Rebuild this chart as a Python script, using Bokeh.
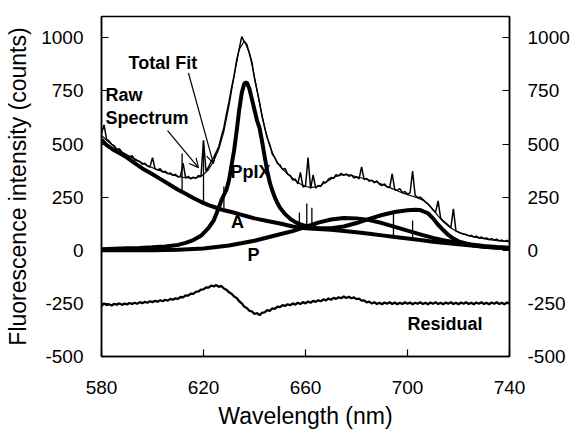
from bokeh.plotting import figure
from bokeh.models import FixedTicker, LinearAxis, Range1d, Label, Arrow, OpenHead, PrintfTickFormatter
from bokeh.embed import file_html
from bokeh.resources import INLINE

# ---------------- data ----------------
raw_x = list(range(580, 741))
raw_y = [548, 590, 522, 515, 498, 492, 470, 478, 462, 455,
         448, 440, 445, 426, 421, 418, 405, 410, 396, 392,
         436, 383, 378, 384, 368, 372, 360, 364, 352, 358,
         345, 350, 410, 340, 348, 336, 344, 338, 352, 345,
         516, 372, 392, 418, 436, 462, 488, 535, 578, 642,
         698, 765, 822, 895, 948, 1005, 982, 968, 925, 885,
         808, 752, 695, 628, 578, 528, 498, 452, 436, 408,
         402, 380, 385, 358, 352, 330, 335, 312, 366, 298,
         302, 436, 290, 355, 292, 305, 300, 322, 318, 335,
         342, 338, 356, 350, 362, 352, 360, 348, 354, 340,
         346, 336, 392, 332, 338, 325, 330, 318, 326, 310,
         305, 312, 298, 295, 360, 285, 282, 290, 272, 276,
         265, 270, 372, 258, 248, 250, 240, 228, 218, 205,
         190, 178, 232, 150, 138, 128, 118, 105, 195, 90,
         86, 80, 76, 74, 68, 70, 63, 66, 58, 62,
         55, 58, 50, 55, 48, 52, 44, 48, 42, 46,
         40]

fit_x = list(range(580, 741, 2))
fit_y = [540, 518, 498, 478, 462, 448, 436, 424, 410, 398,
         388, 378, 370, 362, 355, 348, 343, 340, 340, 344,
         356, 380, 420, 475, 560, 680, 820, 945, 985, 930,
         815, 690, 575, 490, 432, 395, 370, 348, 328, 312,
         300, 296, 298, 306, 320, 335, 348, 355, 356, 352,
         346, 340, 334, 327, 320, 310, 300, 290, 280, 270,
         262, 254, 246, 236, 218, 192, 162, 135, 114, 98,
         85, 76, 69, 63, 58, 54, 50, 47, 44, 42,
         40]

ppix_x = [580, 585, 590, 595, 600, 605, 610, 613, 616, 619, 622, 624, 626, 627,
          628, 629, 630, 631, 632, 633, 634, 635, 636, 637, 638, 639, 640, 641,
          642, 643, 644, 645, 646, 647, 648, 649, 650, 652, 654, 656, 658, 660,
          665, 670, 675, 680, 685, 690, 695, 700, 703, 705, 708, 710, 712, 714,
          716, 718, 720, 725, 730, 735, 740]
ppix_y = [5, 7, 9, 11, 14, 18, 25, 35, 48, 68, 105, 140, 200, 235,
          260, 285, 330, 400, 470, 560, 660, 740, 785, 790, 760, 710, 660, 610,
          575, 510, 440, 372, 318, 280, 248, 222, 200, 170, 148, 132, 122, 115,
          104, 104, 112, 128, 148, 166, 180, 188, 191, 189, 174, 150, 120, 95,
          72, 55, 42, 25, 16, 12, 10]

a_x = [580, 582, 585, 588, 590, 593, 596, 600, 603, 606, 610, 613, 616, 619,
       622, 625, 628, 631, 634, 637, 640, 645, 650, 655, 660, 665, 670, 675,
       680, 685, 690, 695, 700, 705, 710, 715, 720, 725, 730, 735, 740]
a_y = [520, 495, 470, 450, 436, 410, 385, 358, 336, 314, 285, 266, 246, 228,
       212, 200, 188, 180, 170, 160, 150, 138, 126, 112, 104, 100, 96, 91,
       85, 78, 70, 62, 55, 48, 40, 34, 28, 22, 17, 13, 10]

spike_x = [611.6, 620, 628, 657.6, 660.5, 662.5, 694.5, 702]
spike_base = [272, 215, 188, 108, 104, 103, 66, 56]
spike_top = [455, 516, 300, 178, 220, 200, 178, 140]

p_x = [580, 600, 610, 620, 630, 640, 650, 655, 660, 665, 670, 675, 680, 685,
       690, 695, 700, 705, 710, 715, 720, 725, 730, 735, 740]
p_y = [0, 0, 2, 8, 22, 45, 75, 90, 110, 130, 145, 152, 150, 142,
       128, 110, 92, 75, 58, 45, 35, 27, 20, 15, 12]

res_x = list(range(580, 741))
res_y = [-262, -250, -258, -254, -260, -252, -256, -250, -257, -251,
         -255, -248, -253, -247, -252, -244, -249, -243, -247, -240,
         -244, -238, -242, -235, -240, -233, -237, -229, -233, -226,
         -229, -220, -222, -212, -214, -204, -205, -196, -194, -185,
         -184, -175, -176, -166, -170, -164, -172, -168, -180, -186,
         -198, -205, -218, -225, -240, -250, -266, -272, -285, -288,
         -300, -296, -305, -294, -292, -282, -285, -273, -276, -265,
         -268, -258, -262, -254, -259, -250, -256, -247, -253, -244,
         -250, -241, -247, -238, -243, -235, -240, -231, -236, -227,
         -233, -224, -229, -221, -226, -218, -225, -219, -226, -222,
         -230, -228, -237, -236, -245, -242, -251, -245, -253, -247,
         -254, -246, -252, -245, -253, -246, -254, -247, -253, -245,
         -252, -246, -254, -247, -252, -245, -253, -247, -254, -246,
         -252, -245, -253, -247, -254, -246, -252, -245, -253, -247,
         -254, -246, -252, -245, -253, -247, -254, -246, -252, -245,
         -253, -247, -254, -246, -252, -245, -253, -247, -254, -246,
         -252]

x_ticks = [580, 620, 660, 700, 740]
y_ticks = [-500, -250, 0, 250, 500, 750, 1000]

# ---------------- figure ----------------
FONT = "Liberation Sans"
p = figure(frame_width=408, frame_height=340, x_range=Range1d(580, 740), y_range=Range1d(-500, 1100),
           output_backend="svg", toolbar_location=None,
           min_border_left=101, min_border_right=57, min_border_top=16, min_border_bottom=60)
p.xgrid.visible = False
p.ygrid.visible = False
p.outline_line_color = "black"
p.outline_line_width = 1.5
p.outline_line_alpha = 1

p.line(raw_x, raw_y, line_color="black", line_width=1.5)
p.line(fit_x, fit_y, line_color="black", line_width=1.2)
p.segment(x0=spike_x, y0=spike_base, x1=spike_x, y1=spike_top, line_color="black", line_width=1.3)
p.line(a_x, a_y, line_color="black", line_width=4)
p.line(p_x, p_y, line_color="black", line_width=4)
p.line(ppix_x, ppix_y, line_color="black", line_width=4)
p.line(res_x, res_y, line_color="black", line_width=2.3)

def style_axis(ax, ticks):
    ax.ticker = FixedTicker(ticks=ticks)
    ax.formatter = PrintfTickFormatter(format="%d")
    ax.minor_tick_line_color = None
    ax.major_tick_in = 7
    ax.major_tick_out = 0
    ax.major_tick_line_color = "black"
    ax.major_tick_line_width = 1.2
    ax.axis_line_color = "black"
    ax.axis_line_width = 1.5
    ax.major_label_text_font = FONT
    ax.major_label_text_font_size = "19px"
    ax.major_label_text_color = "black"
    ax.major_label_standoff = 18
    ax.axis_label_text_font = FONT
    ax.axis_label_text_font_size = "23px"
    ax.axis_label_text_font_style = "normal"
    ax.axis_label_text_color = "black"

style_axis(p.xaxis[0], x_ticks)
style_axis(p.yaxis[0], y_ticks)
p.xaxis[0].axis_label = "Wavelength (nm)"
p.xaxis[0].major_label_standoff = 24
p.xaxis[0].axis_label_standoff = 6
p.yaxis[0].axis_label = "Fluorescence intensity (counts)"
p.yaxis[0].axis_label_standoff = 7

right = LinearAxis()
style_axis(right, y_ticks)
p.add_layout(right, "right")

def lab(x, y, t, align="left"):
    p.add_layout(Label(x=x, y=y, text=t, text_font=FONT, text_font_style="bold",
                       text_font_size="18px", text_color="black", text_align=align,
                       text_baseline="middle"))

lab(590.6, 881, "Total Fit")
lab(581.6, 731, "Raw")
lab(581.6, 623, "Spectrum")
lab(630.6, 370, "PpIX")
lab(633.3, 131, "A", "center")
lab(639.6, -23, "P", "center")
lab(700, -347, "Residual")

p.add_layout(Arrow(x_start=605.9, y_start=563, x_end=618, y_end=389, line_width=1.2,
                   end=OpenHead(size=9, line_color="black", line_width=1.2)))
p.add_layout(Arrow(x_start=614.1, y_start=834, x_end=623.9, y_end=408, line_width=1.2,
                   end=OpenHead(size=9, line_color="black", line_width=1.2)))

open("out.html", "w").write(file_html(p, INLINE))
